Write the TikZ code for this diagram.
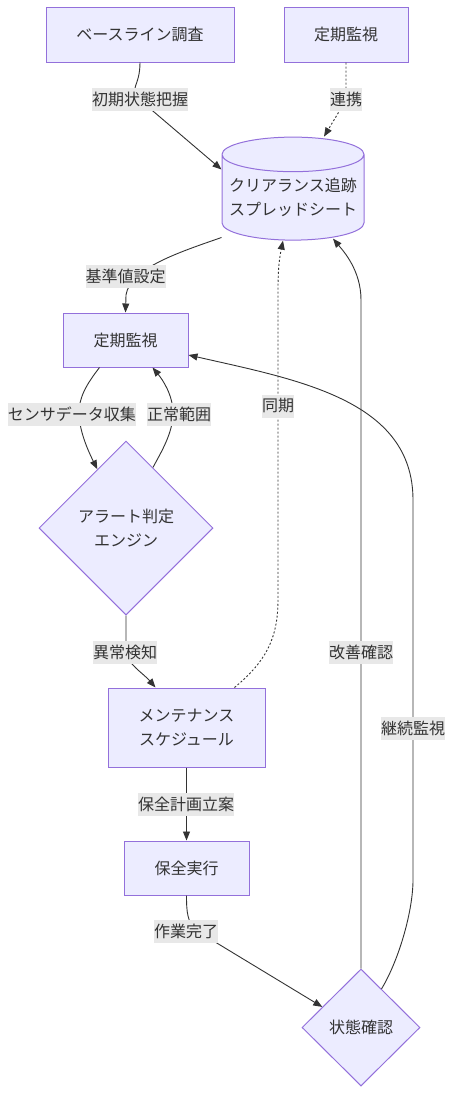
\documentclass[tikz,border=0pt]{standalone}
\usepackage{fontspec}
\newfontfamily\jp{Noto Sans CJK JP}
\usetikzlibrary{shapes.geometric,arrows.meta}
\definecolor{nodefill}{HTML}{ECECFF}
\definecolor{nodeline}{HTML}{9370DB}
\definecolor{ink}{HTML}{333333}
\definecolor{lblbg}{HTML}{E8E8E8}
\begin{document}
\begin{tikzpicture}[x=1pt, y=-1pt,
	>={Triangle[length=9pt, width=7pt]},
	font=\jp\fontsize{16pt}{24pt}\selectfont,
	box/.style={draw=nodeline, fill=nodefill, text=ink, line width=1pt, inner sep=0pt, align=center},
	diam/.style={box, diamond},
	db/.style={box, cylinder, shape border rotate=90, aspect=.27},
	arr/.style={->, draw=ink, line width=.9pt},
	arrdot/.style={arr, dash pattern=on 2pt off 2pt},
	lbl/.style={fill=lblbg, text=ink, inner sep=0pt, minimum height=23pt}]
	\useasboundingbox (0,0) rectangle (453,1095);
	
	% boxes
	\node[box, minimum width=188pt, minimum height=55pt] (survey) at (140,34.5) {ベースライン調査};
	\node[box, minimum width=124pt, minimum height=55pt] (watchA) at (346,34.5) {定期監視};
	\node[db, minimum width=142pt, minimum height=103pt] (sheet) at (293,197.5) {クリアランス追跡\\スプレッドシート};
	\node[box, minimum width=125pt, minimum height=54pt] (watchB) at (125.5,340) {定期監視};
	\node[diam, minimum width=174pt, minimum height=174pt] (alert) at (126,528) {アラート判定\\エンジン};
	\node[box, minimum width=157pt, minimum height=79pt] (sched) at (186.5,727.5) {メンテナンス\\スケジュール};
	\node[box, minimum width=125pt, minimum height=54pt] (work) at (186.5,868) {保全実行};
	\node[diam, minimum width=118pt, minimum height=117pt] (check) at (361,1027.5) {状態確認};
	
	% edges
	\draw[arr] (survey.south) .. controls +(0,25) and +(-12,-12) .. (140,100)
		-- ([yshift=28pt]sheet.west);
	\draw[arrdot] (watchA.south) .. controls +(0,20) and +(0,-12) .. (346,100)
		-- ([xshift=31pt]sheet.north);
	\draw[arr] ([yshift=-40pt]sheet.west) .. controls (180,252) and (130,268) .. (126,295)
		-- (watchB.north);
	\draw[arr] ([xshift=-26pt]watchB.south) .. controls +(-14,18) and +(0,-15) .. (79,413)
		.. controls +(0,20) and +(-6,-12) .. (alert.116);
	\draw[arr] (alert.66) .. controls +(8,-15) and +(0,20) .. (173,413)
		.. controls +(0,-18) and +(10,12) .. ([xshift=27pt]watchB.south);
	\draw[arr] (alert.south) .. controls +(0,20) and +(0,-12) .. (126,651)
		.. controls +(0,12) and +(-12,-14) .. ([xshift=-31pt]sched.north);
	\draw[arrdot] ([xshift=48pt]sched.north) .. controls +(30,-25) and +(0,40) .. (278,600)
		-- (278,290) .. controls +(0,-25) and +(-3,15) .. ([xshift=-10pt]sheet.south);
	\draw[arr] (sched) -- (work);
	\draw[arr] (work.south) .. controls +(0,15) and +(-10,-8) .. (197,931)
		-- (check.152);
	\draw[arr] (check.north) -- (361,300)
		.. controls +(0,-30) and +(10,12) .. ([xshift=40pt, yshift=2pt]sheet.south);
	\draw[arr] (check.62) .. controls +(18,-30) and +(0,30) .. (413,880)
		-- (413,500) .. controls +(0,-100) and +(110,25) .. ([yshift=-15pt]watchB.east);
	
	% labels
	\node[lbl] (lInit) at (140,99.5) {初期状態把握};
	\node[lbl] (lLink) at (346,99.5) {連携};
	\node[lbl] (lBase) at (125.5,276) {基準値設定};
	\node[lbl] (lSensor) at (72,414) {センサデータ収集};
	\node[lbl] (lNormal) at (179,414) {正常範囲};
	\node[lbl] (lSync) at (278,406) {同期};
	\node[lbl] (lAnom) at (125,652) {異常検知};
	\node[lbl] (lFix) at (361,652) {改善確認};
	\node[lbl] (lKeep) at (413,728) {継続監視};
	\node[lbl] (lPlan) at (186,804) {保全計画立案};
	\node[lbl] (lDone) at (186,931.5) {作業完了};
\end{tikzpicture}
\end{document}
